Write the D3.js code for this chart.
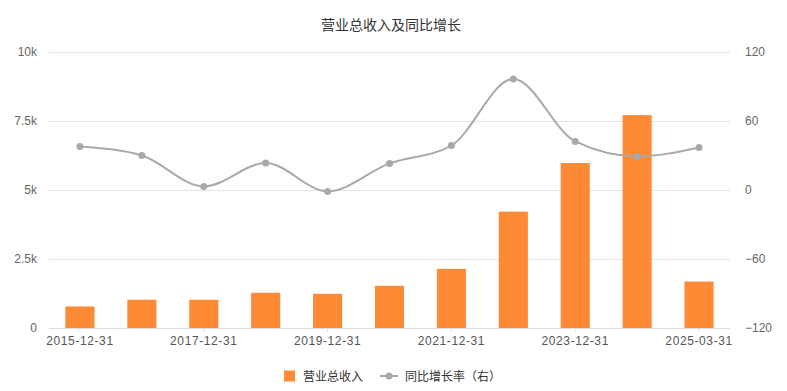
<!DOCTYPE html>
<html>
<head>
<meta charset="utf-8">
<script src="https://cdn.jsdelivr.net/npm/d3@7"></script>
<style>
  body { margin: 0; background: #fff; }
  svg { font-family: "Noto Sans CJK SC", "Noto Sans", sans-serif; }
</style>
</head>
<body>
<svg id="chart"></svg>
<script>
// Data
const categories = ['2015-12-31', '2016-12-31', '2017-12-31', '2018-12-31', '2019-12-31',
  '2020-12-31', '2021-12-31', '2022-12-31', '2023-12-31', '2024-12-31', '2025-03-31'];
const revenue = [781, 1023, 1023, 1276, 1240, 1529, 2144, 4215, 5976, 7712, 1685];
const growth = [37.8, 30.0, 3.1, 23.4, -1.2, 23.1, 38.7, 96.6, 42.2, 29.2, 37.0];
const leftTicks = [0, 2500, 5000, 7500, 10000];
const rightTicks = [-120, -60, 0, 60, 120];
const labelEvery = 2;

const width = 787;
const height = 391;
const margin = { top: 52, right: 57, bottom: 63, left: 49 };
const innerW = width - margin.left - margin.right;
const innerH = height - margin.top - margin.bottom;

const barColor = '#fe8a36';
const lineColor = '#a9a9a9';

const svg = d3.select('#chart')
  .attr('width', width)
  .attr('height', height);

const g = svg.append('g')
  .attr('transform', 'translate(' + margin.left + ',' + margin.top + ')');

// scales
const x = d3.scaleBand()
  .domain(categories)
  .range([0, innerW])
  .paddingInner(0.53)
  .paddingOuter(0.265);

const xCenter = d => x(d) + x.bandwidth() / 2;

const yLeft = d3.scaleLinear()
  .domain([0, 10000])
  .range([innerH, 0]);

const yRight = d3.scaleLinear()
  .domain([-120, 120])
  .range([innerH, 0]);

// grid lines
g.append('g')
  .selectAll('line')
  .data(leftTicks.filter(d => d > 0))
  .join('line')
  .attr('x1', 0)
  .attr('x2', innerW)
  .attr('y1', d => Math.round(yLeft(d)) + 0.5)
  .attr('y2', d => Math.round(yLeft(d)) + 0.5)
  .attr('stroke', '#e6e6e6');

// left axis
const leftAxis = g.append('g')
  .call(d3.axisLeft(yLeft).tickValues(leftTicks)
    .tickFormat(d => d === 0 ? '0' : d3.format('~')(d / 1000) + 'k')
    .tickSize(0).tickPadding(12));
leftAxis.select('.domain').remove();
leftAxis.selectAll('text')
  .attr('fill', '#666')
  .attr('font-size', 12);

// right axis
const rightAxis = g.append('g')
  .attr('transform', 'translate(' + innerW + ',0)')
  .call(d3.axisRight(yRight).tickValues(rightTicks)
    .tickSize(0).tickPadding(15));
rightAxis.select('.domain').remove();
rightAxis.selectAll('text')
  .attr('fill', '#666')
  .attr('font-size', 12);

// bars
g.append('g')
  .selectAll('rect')
  .data(categories)
  .join('rect')
  .attr('x', d => x(d))
  .attr('y', (d, i) => yLeft(revenue[i]))
  .attr('width', x.bandwidth())
  .attr('height', (d, i) => innerH - yLeft(revenue[i]))
  .attr('fill', barColor);

// bottom axis
const bottomAxis = g.append('g')
  .attr('transform', 'translate(0,' + innerH + ')')
  .call(d3.axisBottom(x)
    .tickValues(categories.filter((d, i) => i % labelEvery === 0))
    .tickSize(4).tickPadding(4));
bottomAxis.select('.domain')
  .attr('stroke', '#dcdce6')
  .attr('d', 'M0,0.5H' + innerW);
bottomAxis.selectAll('.tick line').attr('stroke', '#dcdce6');
bottomAxis.selectAll('text')
  .attr('fill', '#555')
  .attr('font-size', 12)
  .attr('letter-spacing', 0.6);

// growth line
const line = d3.line()
  .x(d => xCenter(d))
  .y((d, i) => yRight(growth[i]))
  .curve(d3.curveMonotoneX);

g.append('path')
  .datum(categories)
  .attr('fill', 'none')
  .attr('stroke', lineColor)
  .attr('stroke-width', 2)
  .attr('d', line);

g.append('g')
  .selectAll('circle')
  .data(categories)
  .join('circle')
  .attr('cx', d => xCenter(d))
  .attr('cy', (d, i) => yRight(growth[i]))
  .attr('r', 3.5)
  .attr('fill', lineColor);

// title
svg.append('text')
  .attr('x', 391)
  .attr('y', 30)
  .attr('text-anchor', 'middle')
  .attr('font-size', 14)
  .attr('fill', '#333')
  .text('营业总收入及同比增长');

// legend
const legend = svg.append('g').attr('transform', 'translate(0,376)');
legend.append('rect')
  .attr('x', 284).attr('y', -5.5)
  .attr('width', 11).attr('height', 11)
  .attr('fill', barColor);
legend.append('text')
  .attr('x', 303).attr('y', 4.5)
  .attr('font-size', 12).attr('fill', '#333')
  .text('营业总收入');
legend.append('line')
  .attr('x1', 380).attr('x2', 398)
  .attr('y1', 0).attr('y2', 0)
  .attr('stroke', lineColor).attr('stroke-width', 2);
legend.append('circle')
  .attr('cx', 389).attr('cy', 0).attr('r', 3.5)
  .attr('fill', lineColor);
legend.append('text')
  .attr('x', 405).attr('y', 4.5)
  .attr('font-size', 12).attr('fill', '#333')
  .text('同比增长率（右）');
</script>
</body>
</html>
